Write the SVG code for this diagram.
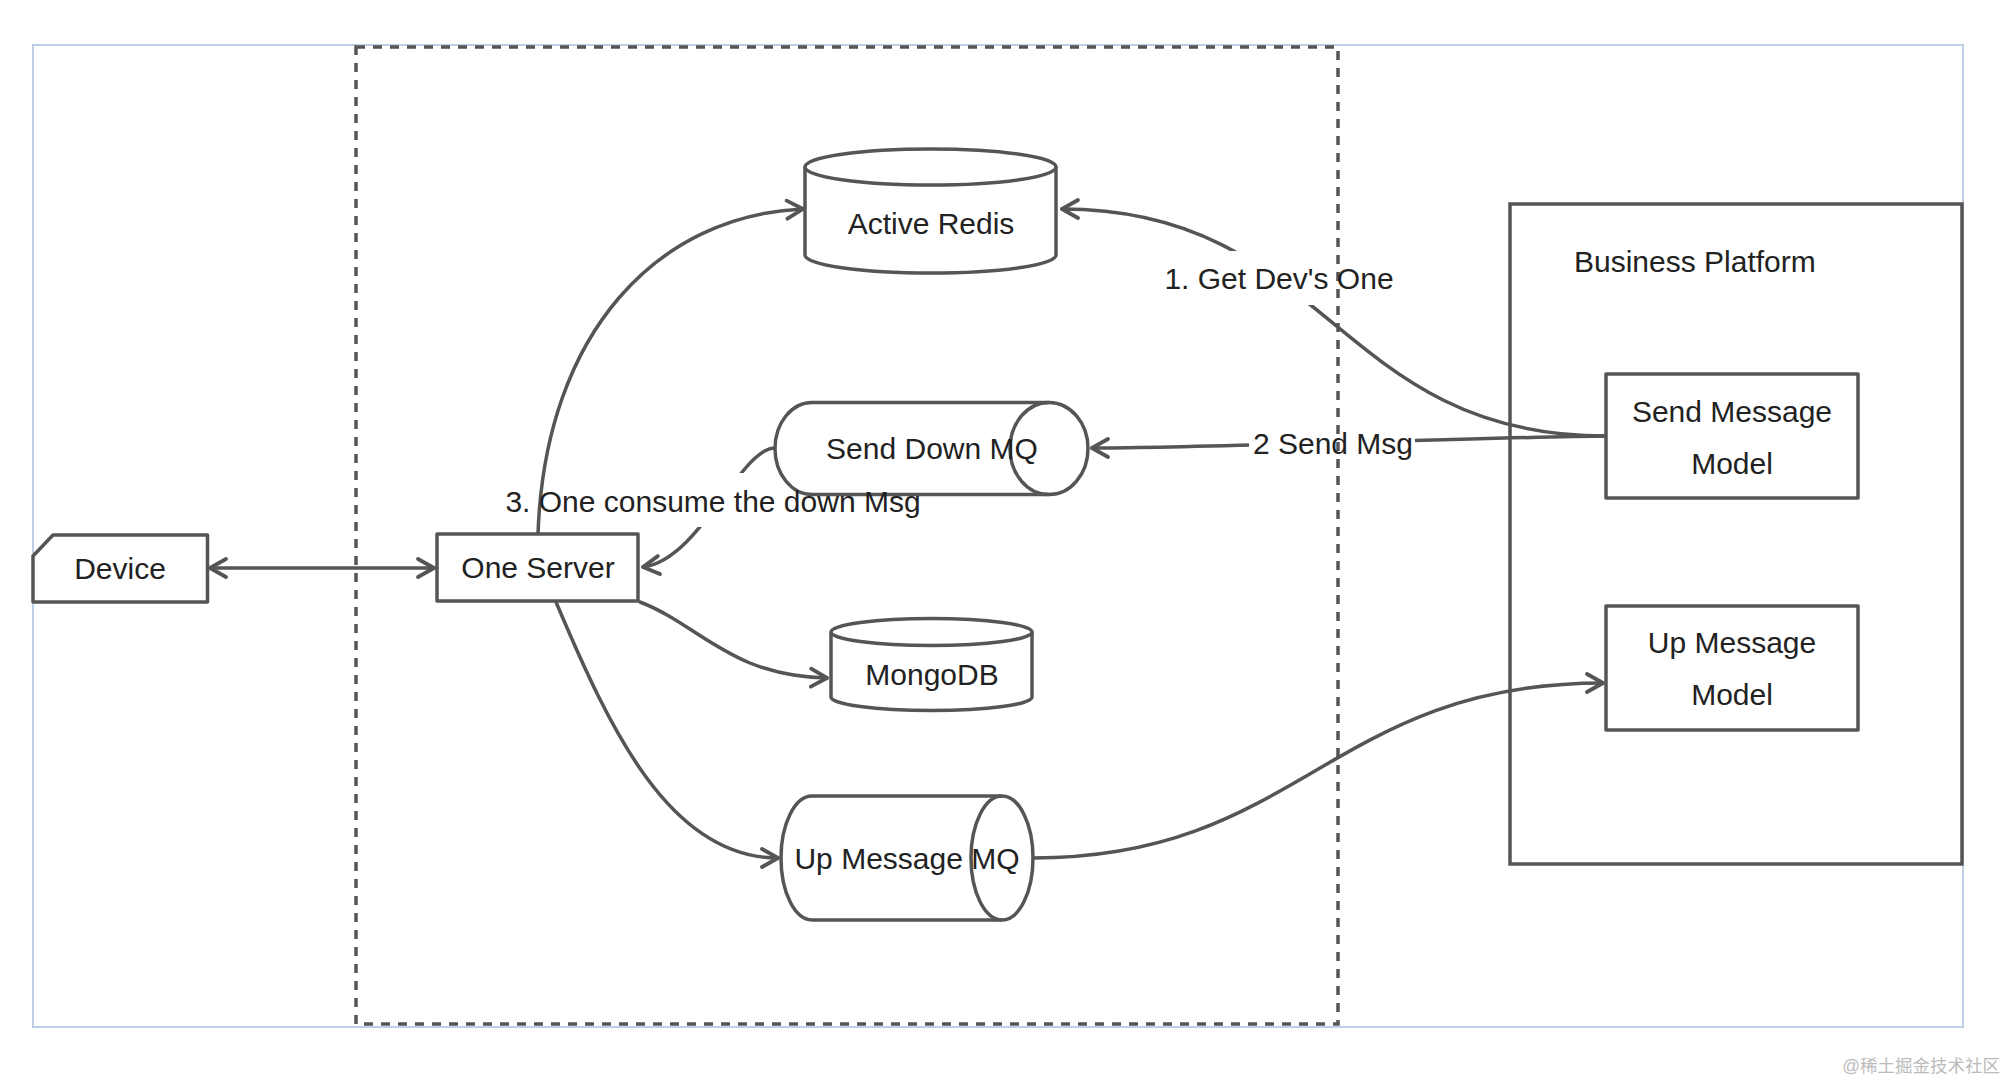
<svg xmlns="http://www.w3.org/2000/svg" width="2008" height="1084" viewBox="0 0 2008 1084">
<style>
.sh{fill:#fff;stroke:#555;stroke-width:3.5;stroke-linejoin:round}
.ln{fill:none;stroke:#555;stroke-width:3.5;stroke-linecap:round}
.tx{font-family:"Liberation Sans",Arial,sans-serif;font-size:30px;fill:#222;text-anchor:middle;dominant-baseline:central}
</style>
<defs>
<marker id="arr" viewBox="-20 -13 24 26" markerWidth="24" markerHeight="26" refX="0" refY="0" orient="auto-start-reverse" markerUnits="userSpaceOnUse">
<path d="M-16,-9 L0,0 L-16,9" fill="none" stroke="#555" stroke-width="3.8" stroke-linecap="round" stroke-linejoin="round"/>
</marker>
<mask id="m1" maskUnits="userSpaceOnUse" x="0" y="0" width="2008" height="1084"><rect width="2008" height="1084" fill="#fff"/><rect x="1158" y="251" width="242" height="54" fill="#000"/></mask>
<mask id="m2" maskUnits="userSpaceOnUse" x="0" y="0" width="2008" height="1084"><rect width="2008" height="1084" fill="#fff"/><rect x="1249" y="424" width="166" height="38" fill="#000"/></mask>
<mask id="m3" maskUnits="userSpaceOnUse" x="0" y="0" width="2008" height="1084"><rect width="2008" height="1084" fill="#fff"/><rect x="498" y="473" width="432" height="54" fill="#000"/></mask>
</defs>
<rect x="0" y="0" width="2008" height="1084" fill="#fff"/>
<rect id="frame" x="33" y="45" width="1930" height="982" fill="#fff" stroke="#b7cbe3" stroke-width="1.8"/>
<rect id="server-zone" x="356" y="47" width="982" height="977" fill="none" stroke="#555" stroke-width="3.5" stroke-dasharray="9 8"/>
<g id="business-platform">
<rect x="1510" y="204" width="452" height="660" fill="none" stroke="#555" stroke-width="3.5"/>
<text class="tx" x="1574" y="261" style="text-anchor:start">Business Platform</text>
</g>
<g id="connectors">
<path class="ln" d="M210,568 L434,568" marker-start="url(#arr)" marker-end="url(#arr)"/>
<path class="ln" d="M538,534 C545,330 660,215 803,209" marker-end="url(#arr)"/>
<path class="ln" d="M1606,436 C1335,436 1328,209 1062,209" marker-end="url(#arr)" mask="url(#m1)"/>
<path class="ln" d="M1606,436 C1500,437 1200,448 1092,448" marker-end="url(#arr)" mask="url(#m2)"/>
<path class="ln" d="M775,448 C740,448 700,560 643,567" marker-end="url(#arr)" mask="url(#m3)"/>
<path class="ln" d="M640,602 C700,625 730,676 827,678" marker-end="url(#arr)"/>
<path class="ln" d="M556,602 C610,730 670,858 778,858" marker-end="url(#arr)"/>
<path class="ln" d="M1033,858 C1300,858 1330,683 1603,683" marker-end="url(#arr)"/>
</g>
<g id="device">
<path class="sh" d="M53,535 H207.5 V602 H33 V556 Z"/>
<text class="tx" x="120" y="568">Device</text>
</g>
<g id="one-server">
<rect class="sh" x="437" y="534" width="201" height="67"/>
<text class="tx" x="538" y="567">One Server</text>
</g>
<g id="active-redis">
<path class="sh" d="M805,167 V255 A125.5,18 0 0,0 1056,255 V167"/>
<ellipse class="sh" cx="930.5" cy="167" rx="125.5" ry="18"/>
<text class="tx" x="931" y="223">Active Redis</text>
</g>
<g id="send-down-mq">
<path class="sh" d="M812,402.5 H1049 A39,46 0 0,1 1049,494.5 H812 A37,46 0 0,1 812,402.5 Z"/>
<path class="sh" d="M1049,402.5 A39,46 0 0,0 1049,494.5" style="fill:none"/>
<text class="tx" x="932" y="448">Send Down MQ</text>
</g>
<g id="mongodb">
<path class="sh" d="M831,632 V697 A100.5,13.5 0 0,0 1032,697 V632"/>
<ellipse class="sh" cx="931.5" cy="632" rx="100.5" ry="13.5"/>
<text class="tx" x="932" y="674">MongoDB</text>
</g>
<g id="up-message-mq">
<path class="sh" d="M812,796 H1002 A31,62 0 0,1 1002,920 H812 A31,62 0 0,1 812,796 Z"/>
<path class="sh" d="M1002,796 A31,62 0 0,0 1002,920" style="fill:none"/>
<text class="tx" x="907" y="858">Up Message MQ</text>
</g>
<g id="send-message-model">
<rect class="sh" x="1606" y="374" width="252" height="124"/>
<text class="tx" x="1732" y="411">Send Message</text>
<text class="tx" x="1732" y="463">Model</text>
</g>
<g id="up-message-model">
<rect class="sh" x="1606" y="606" width="252" height="124"/>
<text class="tx" x="1732" y="642">Up Message</text>
<text class="tx" x="1732" y="694">Model</text>
</g>
<g id="labels">
<text class="tx" x="1279" y="278">1. Get Dev's One</text>
<text class="tx" x="1333" y="443">2 Send Msg</text>
<text class="tx" x="713" y="501">3. One consume the down Msg</text>
</g>
<text x="2000" y="1066" style="font-family:'Liberation Sans','Noto Sans CJK SC',sans-serif;font-size:17.5px;fill:#bbb;text-anchor:end;dominant-baseline:central">@稀土掘金技术社区</text>
</svg>
